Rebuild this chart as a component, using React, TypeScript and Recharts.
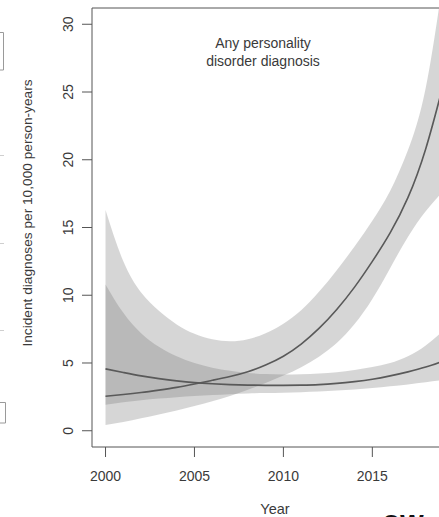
import { ComposedChart, Area, Line, XAxis, YAxis, ReferenceLine } from 'recharts';

// incidence per 10,000 person-years
const years = [2000, 2001, 2002, 2003, 2004, 2005, 2006, 2007, 2008, 2009, 2010, 2011, 2012, 2013, 2014, 2015, 2016, 2017, 2018, 2019];

const risingRate = [2.54, 2.67, 2.82, 3.0, 3.2, 3.45, 3.72, 4.0, 4.35, 4.85, 5.5, 6.4, 7.55, 8.95, 10.6, 12.5, 14.6, 17.2, 20.8, 25.6];
const risingLow = [0.42, 0.65, 0.92, 1.2, 1.5, 1.82, 2.17, 2.57, 3.02, 3.52, 4.07, 4.69, 5.47, 6.47, 7.87, 9.72, 12.0, 14.3, 16.2, 17.7];
const risingHigh = [16.3, 12.5, 10.2, 8.85, 7.85, 7.15, 6.75, 6.6, 6.75, 7.2, 7.9, 8.9, 10.25, 11.85, 13.6, 15.5, 17.7, 20.7, 25.3, 33.5];

const flatRate = [4.56, 4.3, 4.05, 3.85, 3.68, 3.55, 3.47, 3.41, 3.37, 3.35, 3.35, 3.37, 3.41, 3.5, 3.63, 3.8, 4.05, 4.35, 4.7, 5.15];
const flatLow = [1.92, 2.1, 2.25, 2.38, 2.48, 2.56, 2.63, 2.7, 2.75, 2.78, 2.8, 2.85, 2.9, 2.97, 3.05, 3.15, 3.28, 3.42, 3.58, 3.75];
const flatHigh = [10.8, 8.7, 7.2, 6.2, 5.5, 5.0, 4.65, 4.42, 4.27, 4.18, 4.15, 4.17, 4.22, 4.32, 4.48, 4.7, 5.0, 5.5, 6.3, 7.4];

const xTicks = [2000, 2005, 2010, 2015];
const yTicks = [0, 5, 10, 15, 20, 25, 30];

const data = years.map((year, i) => ({
  year,
  rising: risingRate[i],
  risingBand: [risingLow[i], risingHigh[i]],
  flat: flatRate[i],
  flatBand: [flatLow[i], flatHigh[i]],
}));

const FONT = '"Liberation Sans", Arial, Helvetica, sans-serif';
const INK = '#3a3a3a';

function YTick(props: any) {
  const { x, y, payload } = props;
  return (
    <text
      x={x}
      y={y}
      transform={`rotate(-90, ${x}, ${y})`}
      textAnchor="middle"
      fill={INK}
      fontSize={14}
      fontFamily={FONT}
    >
      {payload.value}
    </text>
  );
}

export default function App() {
  return (
    <div style={{ position: 'fixed', left: 0, top: 0, width: 439, height: 517, overflow: 'hidden', background: '#fff' }}>
      <ComposedChart width={467} height={517} data={data} margin={{ top: 8, right: 10, bottom: 40, left: 62 }}>
        <XAxis
          type="number"
          dataKey="year"
          domain={[1999.24, 2019.76]}
          ticks={xTicks}
          tickSize={10}
          tickMargin={14}
          height={30}
          stroke="#555"
          tick={{ fill: INK, fontSize: 14, fontFamily: FONT }}
        />
        <YAxis
          type="number"
          domain={[-1.2, 31.2]}
          allowDataOverflow
          ticks={yTicks}
          tickSize={10}
          tickMargin={9}
          width={30}
          stroke="#555"
          tick={<YTick />}
        />
        <ReferenceLine y={31.2} stroke="#555" />
        <Area
          type="natural"
          dataKey="risingBand"
          fill="#777"
          fillOpacity={0.3}
          stroke="none"
          isAnimationActive={false}
        />
        <Area
          type="natural"
          dataKey="flatBand"
          fill="#777"
          fillOpacity={0.3}
          stroke="none"
          isAnimationActive={false}
        />
        <Line type="natural" dataKey="rising" stroke="#595959" strokeWidth={1.6} dot={false} isAnimationActive={false} />
        <Line type="natural" dataKey="flat" stroke="#595959" strokeWidth={1.7} dot={false} isAnimationActive={false} />
      </ComposedChart>

      <svg width={439} height={517} style={{ position: 'absolute', left: 0, top: 0, pointerEvents: 'none' }}>
        <text x={263} y={48} textAnchor="middle" fill={INK} fontSize={14} fontFamily={FONT}>
          Any personality
        </text>
        <text x={263} y={66} textAnchor="middle" fill={INK} fontSize={14} fontFamily={FONT}>
          disorder diagnosis
        </text>
        <text
          x={32}
          y={213}
          transform="rotate(-90, 32, 213)"
          textAnchor="middle"
          fill={INK}
          fontSize={13.7}
          fontFamily={FONT}
        >
          Incident diagnoses per 10,000 person-years
        </text>
        <text x={275} y={514} textAnchor="middle" fill={INK} fontSize={14.5} fontFamily={FONT}>
          Year
        </text>
        {/* bits of the neighbouring panels left in the crop */}
        <path d="M0 32.5 H3.5 V70 H0" fill="none" stroke="#9a9a9a" />
        <path d="M0 402.5 H5.5 V423 H0" fill="none" stroke="#9a9a9a" />
        <path d="M0 155.5 H4 M0 243.5 H4 M0 330.5 H4" stroke="#cfcfcf" />
        <text x={382} y={531} fill="#111" fontSize={30} fontWeight="bold" fontFamily={FONT}>
          ow
        </text>
      </svg>
    </div>
  );
}
